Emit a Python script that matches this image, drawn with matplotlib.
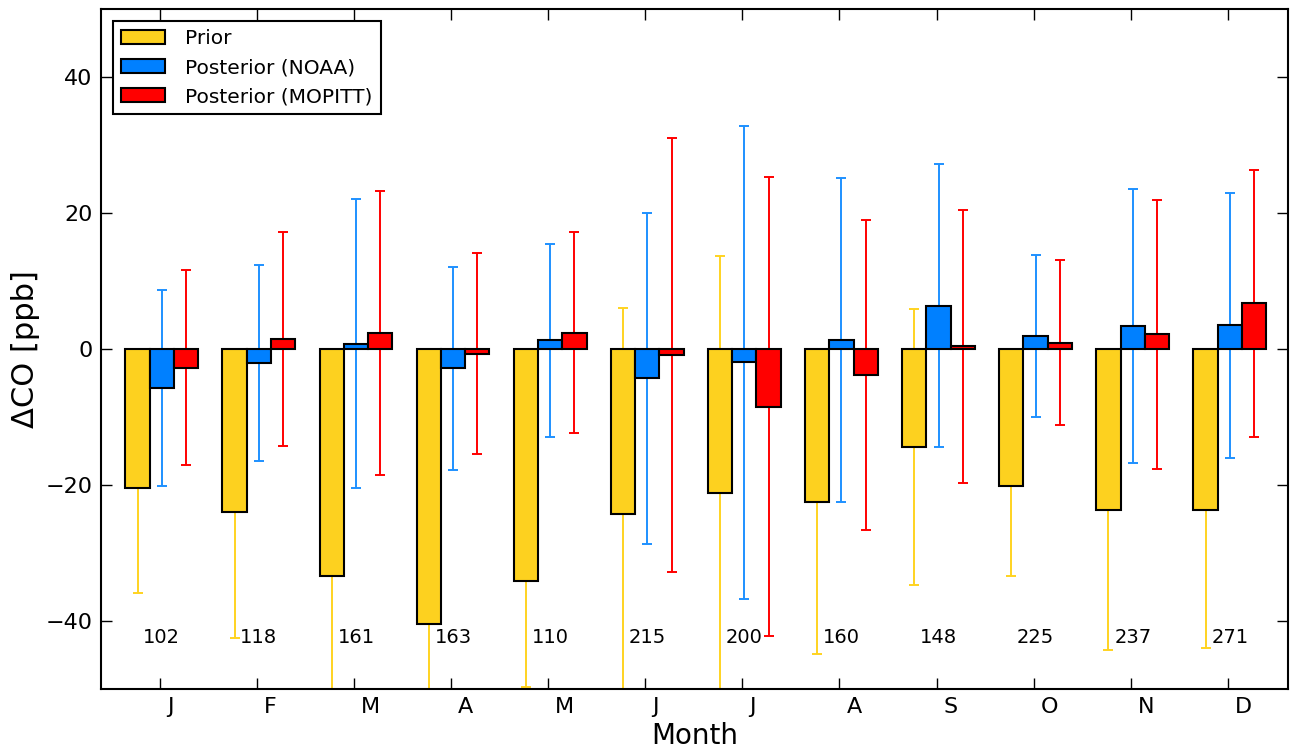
import matplotlib
matplotlib.use('Agg')
import matplotlib.pyplot as plt
import matplotlib.transforms as mtransforms
import numpy as np

months = ['J', 'F', 'M', 'A', 'M', 'J', 'J', 'A', 'S', 'O', 'N', 'D']
counts = [102, 118, 161, 163, 110, 215, 200, 160, 148, 225, 237, 271]

prior = [-20.5, -23.9, -33.4, -40.4, -34.1, -24.2, -21.2, -22.5, -14.4, -20.2, -23.6, -23.6]
prior_err = [15.4, 18.6, 20.0, 18.0, 15.6, 30.3, 34.9, 22.4, 20.3, 13.2, 20.7, 20.3]

noaa = [-5.7, -2.0, 0.8, -2.85, 1.3, -4.3, -1.95, 1.3, 6.4, 1.9, 3.4, 3.5]
noaa_err = [14.4, 14.4, 21.3, 14.9, 14.2, 24.3, 34.8, 23.8, 20.8, 11.9, 20.2, 19.5]

mopitt = [-2.75, 1.5, 2.4, -0.7, 2.4, -0.9, -8.45, -3.8, 0.4, 0.95, 2.15, 6.7]
mopitt_err = [14.3, 15.7, 20.9, 14.8, 14.8, 31.9, 33.8, 22.8, 20.1, 12.1, 19.8, 19.6]

plt.rcParams['font.family'] = ['DejaVu Sans']

fig = plt.figure(figsize=(12.9, 7.49), dpi=100)
ax = fig.add_axes([0.078, 0.080, 0.9205, 0.908])

x = np.arange(len(months))
w = 0.25

series = [
    (prior, prior_err, '#FDD11F', '#FFD320', 'Prior', -w),
    (noaa, noaa_err, '#0080FF', '#1E90FF', 'Posterior (NOAA)', 0.0),
    (mopitt, mopitt_err, '#FF0000', '#FF0000', 'Posterior (MOPITT)', w),
]
for vals, errs, fc, ec, lab, off in series:
    ax.errorbar(x + off + 0.02, vals, yerr=errs, fmt='none', ecolor=ec,
                elinewidth=1.4, capsize=3.5, capthick=1.4, zorder=1)
    ax.bar(x + off + 0.02, vals, width=w, color=fc, edgecolor='black',
           linewidth=1.5, label=lab, zorder=2)

for i, n in enumerate(counts):
    ax.text(x[i] + 0.02, -42.4, str(n), ha='center', va='center', fontsize=14)

ax.set_xlim(-0.61, 11.62)
ax.set_ylim(-50, 50)
ax.set_xticks(x)
ax.set_xticklabels(months, ha='left')
ax.set_yticks([-40, -20, 0, 20, 40])
ax.set_yticklabels(['\u221240', '\u221220', '0', '20', '40'])
ax.tick_params(direction='in', top=True, right=True, length=8, width=1,
               labelsize=16, pad=6)
# month labels sit just right of their ticks in the original
shift = mtransforms.ScaledTranslation(7 / 100, 0, fig.dpi_scale_trans)
for lbl in ax.get_xticklabels():
    lbl.set_transform(lbl.get_transform() + shift)
for s in ax.spines.values():
    s.set_linewidth(1.5)

ax.set_xlabel('Month', fontsize=20, labelpad=3)
ax.set_ylabel('\u0394CO [ppb]', fontsize=22, labelpad=4)

leg = ax.legend(loc='upper left', fontsize=14.5, fancybox=False,
                framealpha=1, edgecolor='black', handlelength=2.2,
                borderaxespad=0.6, handletextpad=1.0)
leg.get_frame().set_linewidth(1.5)

fig.savefig('out.png', dpi=100, facecolor='white')
